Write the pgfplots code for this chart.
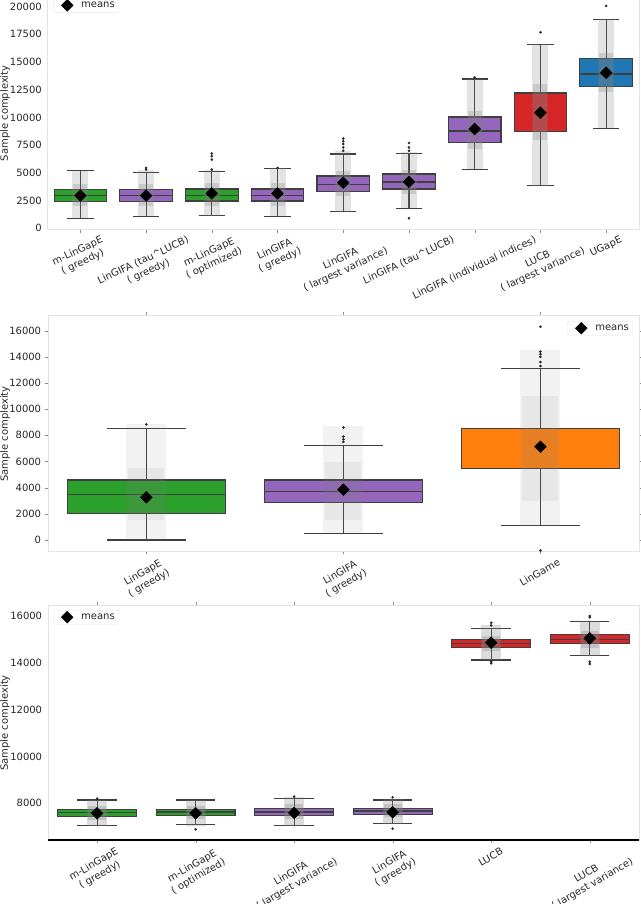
\documentclass[border=0pt]{standalone}
\usepackage{pgfplots}
\pgfplotsset{compat=1.18}
\usepgfplotslibrary{statistics}
\usepackage{fontspec}
\setmainfont{DejaVu Sans}

\definecolor{cgreen}{HTML}{2CA02C}
\definecolor{cpurple}{HTML}{9467BD}
\definecolor{cred}{HTML}{D62728}
\definecolor{cblue}{HTML}{1F77B4}
\definecolor{corange}{HTML}{FF7F0E}
\definecolor{edge}{HTML}{3F3F3F}
\definecolor{framec}{HTML}{E4E4E4}
\definecolor{ink}{HTML}{262626}

% rotated, centred multi-line tick label
\newcommand\rl[2]{\rotatebox{#1}{\begin{tabular}{@{}c@{}}#2\end{tabular}}}

\pgfplotsset{
  panel/.style={
    scale only axis,
    boxplot/draw direction=y,
    axis line style={framec},
    tick align=outside,
    major tick length=3pt,
    xtick style={draw=black!45},
    ytick style={draw=none},
    /pgf/number format/assume math mode=true,
    /pgf/number format/1000 sep={},
    scaled y ticks=false,
    ticklabel style={text=ink},
    yticklabel style={anchor=east, inner sep=0pt, xshift=-2.5pt},
    xticklabel style={anchor=north, inner sep=0pt},
    ylabel={Sample complexity},
    ylabel style={at={(axis description cs:-0.0715,0.5)}, anchor=center, text=ink},
    unbounded coords=jump,
    legend cell align=left,
    legend style={draw=framec, rounded corners=2pt, text=ink,
      inner xsep=2pt, inner ysep=1pt},
  },
  bx/.style={fill=#1, draw=edge, line width=1.1pt, solid, forget plot,
    boxplot/box extend=0.8, boxplot/whisker extend=0.4,
    mark=*, mark size=1.1pt,
    mark options={fill=black!85, draw=black!85, line width=0.4pt}},
  cloud/.style={draw=gray, line width=#1, forget plot},
  meanmk/.style={draw=none, mark=square*, mark size=4.2pt,
    mark options={rotate=45, fill=black, draw=black},
    legend image code/.code={\path (0pt,-6pt) rectangle (24pt,6pt);
      \draw[##1] plot coordinates {(12pt,0pt)};}},
}

\begin{document}
\begin{tikzpicture}

% ---------------- panel 1 ----------------
\begin{axis}[panel,
  at={(47.5pt,-229.5pt)}, anchor=south west,
  width=591.5pt, height=232.5pt,
  xmin=-0.5, xmax=8.5, ymin=-108, ymax=20870,
  ytick={0,2500,...,20000},
  xtick={0,...,8},
  xticklabels={
    {\rl{25}{m-LinGapE\\( greedy)}},
    {\rl{25}{LinGIFA (tau\textasciicircum LUCB)\\( greedy)}},
    {\rl{25}{m-LinGapE\\( optimized)}},
    {\rl{25}{LinGIFA\\( greedy)}},
    {\rl{25}{LinGIFA\\( largest variance)}},
    {\rl{25}{LinGIFA (tau\textasciicircum LUCB)}},
    {\rl{25}{LinGIFA (individual indices)}},
    {\rl{25}{LUCB\\( largest variance)}},
    {\rl{25}{UGapE}}},
  xticklabel style={yshift=-2pt},
  legend style={at={(0.0093,0.995)}, anchor=north west},
]
\addplot[bx=cgreen, boxplot prepared={draw position=0, lower whisker=900,
  lower quartile=2420, median=2980, upper quartile=3520, upper whisker=5200}]
  coordinates {};
\addplot[bx=cpurple, boxplot prepared={draw position=1, lower whisker=1080,
  lower quartile=2420, median=2980, upper quartile=3520, upper whisker=5050}]
  table[row sep=\\, y index=0] {d\\5300\\5450\\};
\addplot[bx=cgreen, boxplot prepared={draw position=2, lower whisker=1140,
  lower quartile=2460, median=3000, upper quartile=3550, upper whisker=5150}]
  table[row sep=\\, y index=0] {d\\5300\\6200\\6500\\6750\\};
\addplot[bx=cpurple, boxplot prepared={draw position=3, lower whisker=1100,
  lower quartile=2460, median=3000, upper quartile=3550, upper whisker=5400}]
  table[row sep=\\, y index=0] {d\\5450\\};
\addplot[bx=cpurple, boxplot prepared={draw position=4, lower whisker=1500,
  lower quartile=3300, median=3970, upper quartile=4720, upper whisker=6700}]
  table[row sep=\\, y index=0] {d\\7000\\7300\\7600\\7850\\8100\\};
\addplot[bx=cpurple, boxplot prepared={draw position=5, lower whisker=1800,
  lower quartile=3550, median=4180, upper quartile=4900, upper whisker=6770}]
  table[row sep=\\, y index=0] {d\\7000\\7300\\7700\\900\\};
\addplot[bx=cpurple, boxplot prepared={draw position=6, lower whisker=5320,
  lower quartile=7760, median=8780, upper quartile=10040, upper whisker=13470}]
  table[row sep=\\, y index=0] {d\\13620\\};
\addplot[bx=cred, boxplot prepared={draw position=7, lower whisker=3850,
  lower quartile=8720, median=8760, upper quartile=12210, upper whisker=16600}]
  table[row sep=\\, y index=0] {d\\17690\\};
\addplot[bx=cblue, boxplot prepared={draw position=8, lower whisker=9020,
  lower quartile=12780, median=13920, upper quartile=15300, upper whisker=18860}]
  table[row sep=\\, y index=0] {d\\20060\\};
% jittered samples, shown as a grey band
\addplot[cloud=16pt, draw opacity=0.22] coordinates {
  (0,900) (0,5200) (0,nan) (1,1080) (1,5300) (1,nan) (2,1140) (2,5300) (2,nan)
  (3,1100) (3,5400) (3,nan) (4,1500) (4,7000) (4,nan) (5,1800) (5,6900) (5,nan)
  (6,5320) (6,13500) (6,nan) (7,3850) (7,16600) (7,nan) (8,9020) (8,18900)};
\addplot[cloud=14pt, draw opacity=0.25] coordinates {
  (0,2000) (0,4000) (0,nan) (1,2000) (1,4000) (1,nan) (2,2000) (2,4100) (2,nan)
  (3,2000) (3,4100) (3,nan) (4,2900) (4,5200) (4,nan) (5,3100) (5,5300) (5,nan)
  (6,7200) (6,10600) (6,nan) (7,8000) (7,13000) (7,nan) (8,12300) (8,15800)};
\addplot[meanmk] coordinates {(0,2950) (1,2950) (2,3150) (3,3150) (4,4110)
  (5,4200) (6,8960) (7,10430) (8,14040)};
\addlegendentry{means}
\end{axis}

% ---------------- panel 2 ----------------
\begin{axis}[panel,
  at={(47.8pt,-550.7pt)}, anchor=south west,
  width=591.2pt, height=235.7pt,
  xmin=-0.5, xmax=2.5, ymin=-818, ymax=17200,
  ytick={0,2000,...,16000},
  ytick style={draw=black!45},
  yticklabel style={xshift=-1pt},
  xtick={0,1,2},
  xticklabels={
    {\rl{30}{LinGapE\\( greedy)}},
    {\rl{30}{LinGIFA\\( greedy)}},
    {\rl{30}{LinGame}}},
  xticklabel style={yshift=-3pt},
  ylabel style={at={(axis description cs:-0.072,0.495)}},
  legend style={at={(0.9899,0.9745)}, anchor=north east},
]
\addplot[bx=cgreen, boxplot prepared={draw position=0, lower whisker=0,
  lower quartile=2040, median=3490, upper quartile=4590, upper whisker=8540}]
  table[row sep=\\, y index=0] {d\\8840\\};
\addplot[bx=cpurple, boxplot prepared={draw position=1, lower whisker=510,
  lower quartile=2850, median=3720, upper quartile=4590, upper whisker=7240}]
  table[row sep=\\, y index=0] {d\\7500\\7700\\7900\\8600\\};
\addplot[bx=corange, boxplot prepared={draw position=2, lower whisker=1120,
  lower quartile=5450, median=5480, upper quartile=8540, upper whisker=13120}]
  table[row sep=\\, y index=0] {d\\13300\\13600\\14000\\14200\\14400\\16300\\-800\\};
\addplot[cloud=40pt, draw opacity=0.1] coordinates {
  (0,0) (0,8900) (0,nan) (1,500) (1,8700) (1,nan) (2,1100) (2,14500)};
\addplot[cloud=36pt, draw opacity=0.1] coordinates {
  (0,1500) (0,5500) (0,nan) (1,1500) (1,6000) (1,nan) (2,3000) (2,11000)};
\addplot[meanmk] coordinates {(0,3260) (1,3850) (2,7130)};
\addlegendentry{means}
\end{axis}

% ---------------- panel 3 ----------------
\begin{axis}[panel, name=p3,
  at={(47.8pt,-840pt)}, anchor=south west,
  width=591.2pt, height=235pt,
  xmin=-0.5, xmax=5.5, ymin=6432, ymax=16470,
  ytick={8000,10000,...,16000},
  xtick={0,...,5},
  xticklabels={
    {\rl{30}{m-LinGapE\\( greedy)}},
    {\rl{30}{m-LinGapE\\( optimized)}},
    {\rl{30}{LinGIFA\\( largest variance)}},
    {\rl{30}{LinGIFA\\( greedy)}},
    {\rl{30}{LUCB}},
    {\rl{30}{LUCB\\( largest variance)}}},
  xticklabel style={yshift=-3pt},
  ylabel style={at={(axis description cs:-0.072,0.498)}},
  legend style={at={(0.0088,0.9787)}, anchor=north west},
]
\addplot[bx=cgreen, boxplot prepared={draw position=0, lower whisker=7046,
  lower quartile=7430, median=7600, upper quartile=7744, upper whisker=8142}]
  table[row sep=\\, y index=0] {d\\8200\\};
\addplot[bx=cgreen, boxplot prepared={draw position=1, lower whisker=7090,
  lower quartile=7473, median=7630, upper quartile=7744, upper whisker=8142}]
  table[row sep=\\, y index=0] {d\\6890\\};
\addplot[bx=cpurple, boxplot prepared={draw position=2, lower whisker=7046,
  lower quartile=7473, median=7630, upper quartile=7786, upper whisker=8200}]
  table[row sep=\\, y index=0] {d\\8285\\};
\addplot[bx=cpurple, boxplot prepared={draw position=3, lower whisker=7130,
  lower quartile=7530, median=7673, upper quartile=7786, upper whisker=8142}]
  table[row sep=\\, y index=0] {d\\8256\\6918\\};
\addplot[bx=cred, boxplot prepared={draw position=4, lower whisker=14121,
  lower quartile=14648, median=14833, upper quartile=15003, upper whisker=15473}]
  table[row sep=\\, y index=0] {d\\15600\\15715\\13979\\14050\\};
\addplot[bx=cred, boxplot prepared={draw position=5, lower whisker=14306,
  lower quartile=14818, median=15000, upper quartile=15203, upper whisker=15772}]
  table[row sep=\\, y index=0] {d\\16000\\15950\\13950\\14050\\};
\addplot[cloud=20pt, draw opacity=0.28] coordinates {
  (0,7050) (0,8150) (0,nan) (1,7050) (1,8150) (1,nan) (2,7050) (2,8250) (2,nan)
  (3,7100) (3,8200) (3,nan) (4,14100) (4,15600) (4,nan) (5,14300) (5,15800)};
\addplot[cloud=18pt, draw opacity=0.28] coordinates {
  (0,7300) (0,7900) (0,nan) (1,7350) (1,7900) (1,nan) (2,7350) (2,7950) (2,nan)
  (3,7400) (3,7950) (3,nan) (4,14500) (4,15150) (4,nan) (5,14650) (5,15350)};
\addplot[meanmk] coordinates {(0,7573) (1,7573) (2,7590) (3,7620)
  (4,14861) (5,15046)};
\addlegendentry{means}
\end{axis}
\draw[black, line width=1.2pt] (p3.south west) -- (p3.south east);

% page = the reference's 640 x 904 frame
\pgfresetboundingbox
\path[use as bounding box] (0pt,0pt) rectangle (640pt,-904pt);
\end{tikzpicture}
\end{document}
